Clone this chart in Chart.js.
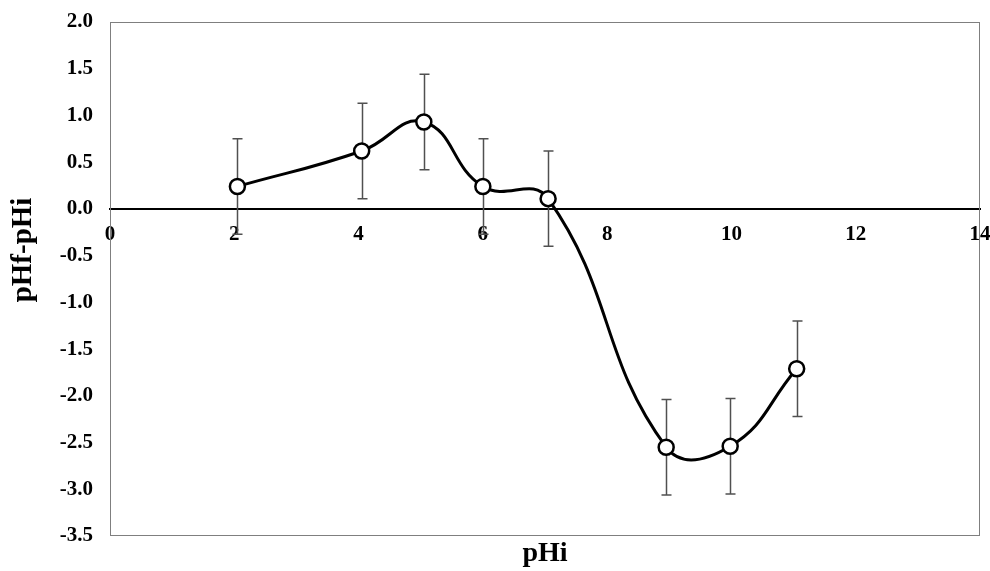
<!DOCTYPE html>
<html>
<head>
<meta charset="utf-8">
<script src="https://cdn.jsdelivr.net/npm/chart.js@4"></script>
<style>
  html, body { margin: 0; padding: 0; background: #fff; }
  #wrap { width: 990px; height: 571px; }
</style>
</head>
<body>
<div id="wrap"><canvas id="chart" width="990" height="571"></canvas></div>
<script>
// values
const phInitial = [2.05, 4.05, 5.05, 6.0, 7.05, 8.95, 9.98, 11.05];
const phChange = [0.24, 0.62, 0.93, 0.24, 0.11, -2.55, -2.54, -1.71];
const phError = [0.51, 0.51, 0.51, 0.51, 0.51, 0.51, 0.51, 0.51];

const xMin = 0, xMax = 14, xStep = 2;
const yMin = -3.5, yMax = 2.0, yStep = 0.5;

const xLabel = 'pHi';
const yLabel = 'pHf-pHi';

const FONT = '"Liberation Serif", "Times New Roman", serif';

const points = phInitial.map((x, i) => ({ x: x, y: phChange[i] }));

// plot frame, error bars, y axis title
const decorations = {
    id: 'decorations',
    beforeDatasetsDraw(chart) {
        const { ctx, chartArea, scales } = chart;
        ctx.save();
        ctx.strokeStyle = '#7f7f7f';
        ctx.lineWidth = 1;
        ctx.strokeRect(chartArea.left + 0.5, chartArea.top + 0.5,
            chartArea.right - chartArea.left - 1, chartArea.bottom - chartArea.top - 1);

        ctx.strokeStyle = '#505050';
        ctx.lineWidth = 1.5;
        phInitial.forEach((x, i) => {
            const px = Math.round(scales.x.getPixelForValue(x)) + 0.5;
            const top = scales.y.getPixelForValue(phChange[i] + phError[i]);
            const bot = scales.y.getPixelForValue(phChange[i] - phError[i]);
            ctx.beginPath();
            ctx.moveTo(px, top); ctx.lineTo(px, bot);
            ctx.moveTo(px - 5, top); ctx.lineTo(px + 5, top);
            ctx.moveTo(px - 5, bot); ctx.lineTo(px + 5, bot);
            ctx.stroke();
        });
        ctx.restore();
    },
    afterDraw(chart) {
        const { ctx } = chart;
        ctx.save();
        ctx.translate(24, 250);
        ctx.rotate(-Math.PI / 2);
        ctx.font = 'bold 29px ' + FONT;
        ctx.fillStyle = '#000';
        ctx.textAlign = 'center';
        ctx.textBaseline = 'middle';
        ctx.fillText(yLabel, 0, 0);
        ctx.restore();
    }
};

new Chart(document.getElementById('chart'), {
    type: 'line',
    data: {
        datasets: [{
            data: points,
            borderColor: '#000',
            borderWidth: 3,
            tension: 0.45,
            pointRadius: 7.5,
            pointBackgroundColor: '#fff',
            pointBorderColor: '#000',
            pointBorderWidth: 2.5,
            fill: false
        }]
    },
    options: {
        responsive: false,
        animation: false,
        layout: { padding: { top: 22, right: 10, bottom: 0, left: 0 } },
        plugins: { legend: { display: false }, tooltip: { enabled: false } },
        scales: {
            x: {
                type: 'linear',
                position: { y: 0 },
                min: xMin, max: xMax,
                grid: { display: false, drawTicks: false },
                border: { display: true, color: '#000', width: 2 },
                ticks: {
                    stepSize: xStep,
                    padding: 13,
                    color: '#000',
                    font: { family: FONT, size: 21, weight: 'bold' },
                    callback: v => String(v)
                },
                afterFit(scale) { scale.paddingLeft = 0; scale.paddingRight = 0; }
            },
            xTitle: {
                type: 'linear',
                position: 'bottom',
                min: xMin, max: xMax,
                grid: { display: false, drawTicks: false },
                border: { display: false },
                ticks: { display: false },
                title: {
                    display: true,
                    text: xLabel,
                    color: '#000',
                    padding: { top: 2, bottom: 0 },
                    font: { family: FONT, size: 28, weight: 'bold' }
                },
                afterFit(scale) { scale.height = 35; scale.paddingLeft = 0; scale.paddingRight = 0; }
            },
            y: {
                min: yMin, max: yMax,
                grid: { display: false, drawTicks: false },
                border: { display: false },
                ticks: {
                    stepSize: yStep,
                    padding: 17,
                    color: '#000',
                    font: { family: FONT, size: 21, weight: 'bold' },
                    callback: v => v.toFixed(1)
                },
                afterFit(scale) { scale.width = 110; scale.paddingTop = 0; scale.paddingBottom = 0; }
            }
        }
    },
    plugins: [decorations]
});
</script>
</body>
</html>
